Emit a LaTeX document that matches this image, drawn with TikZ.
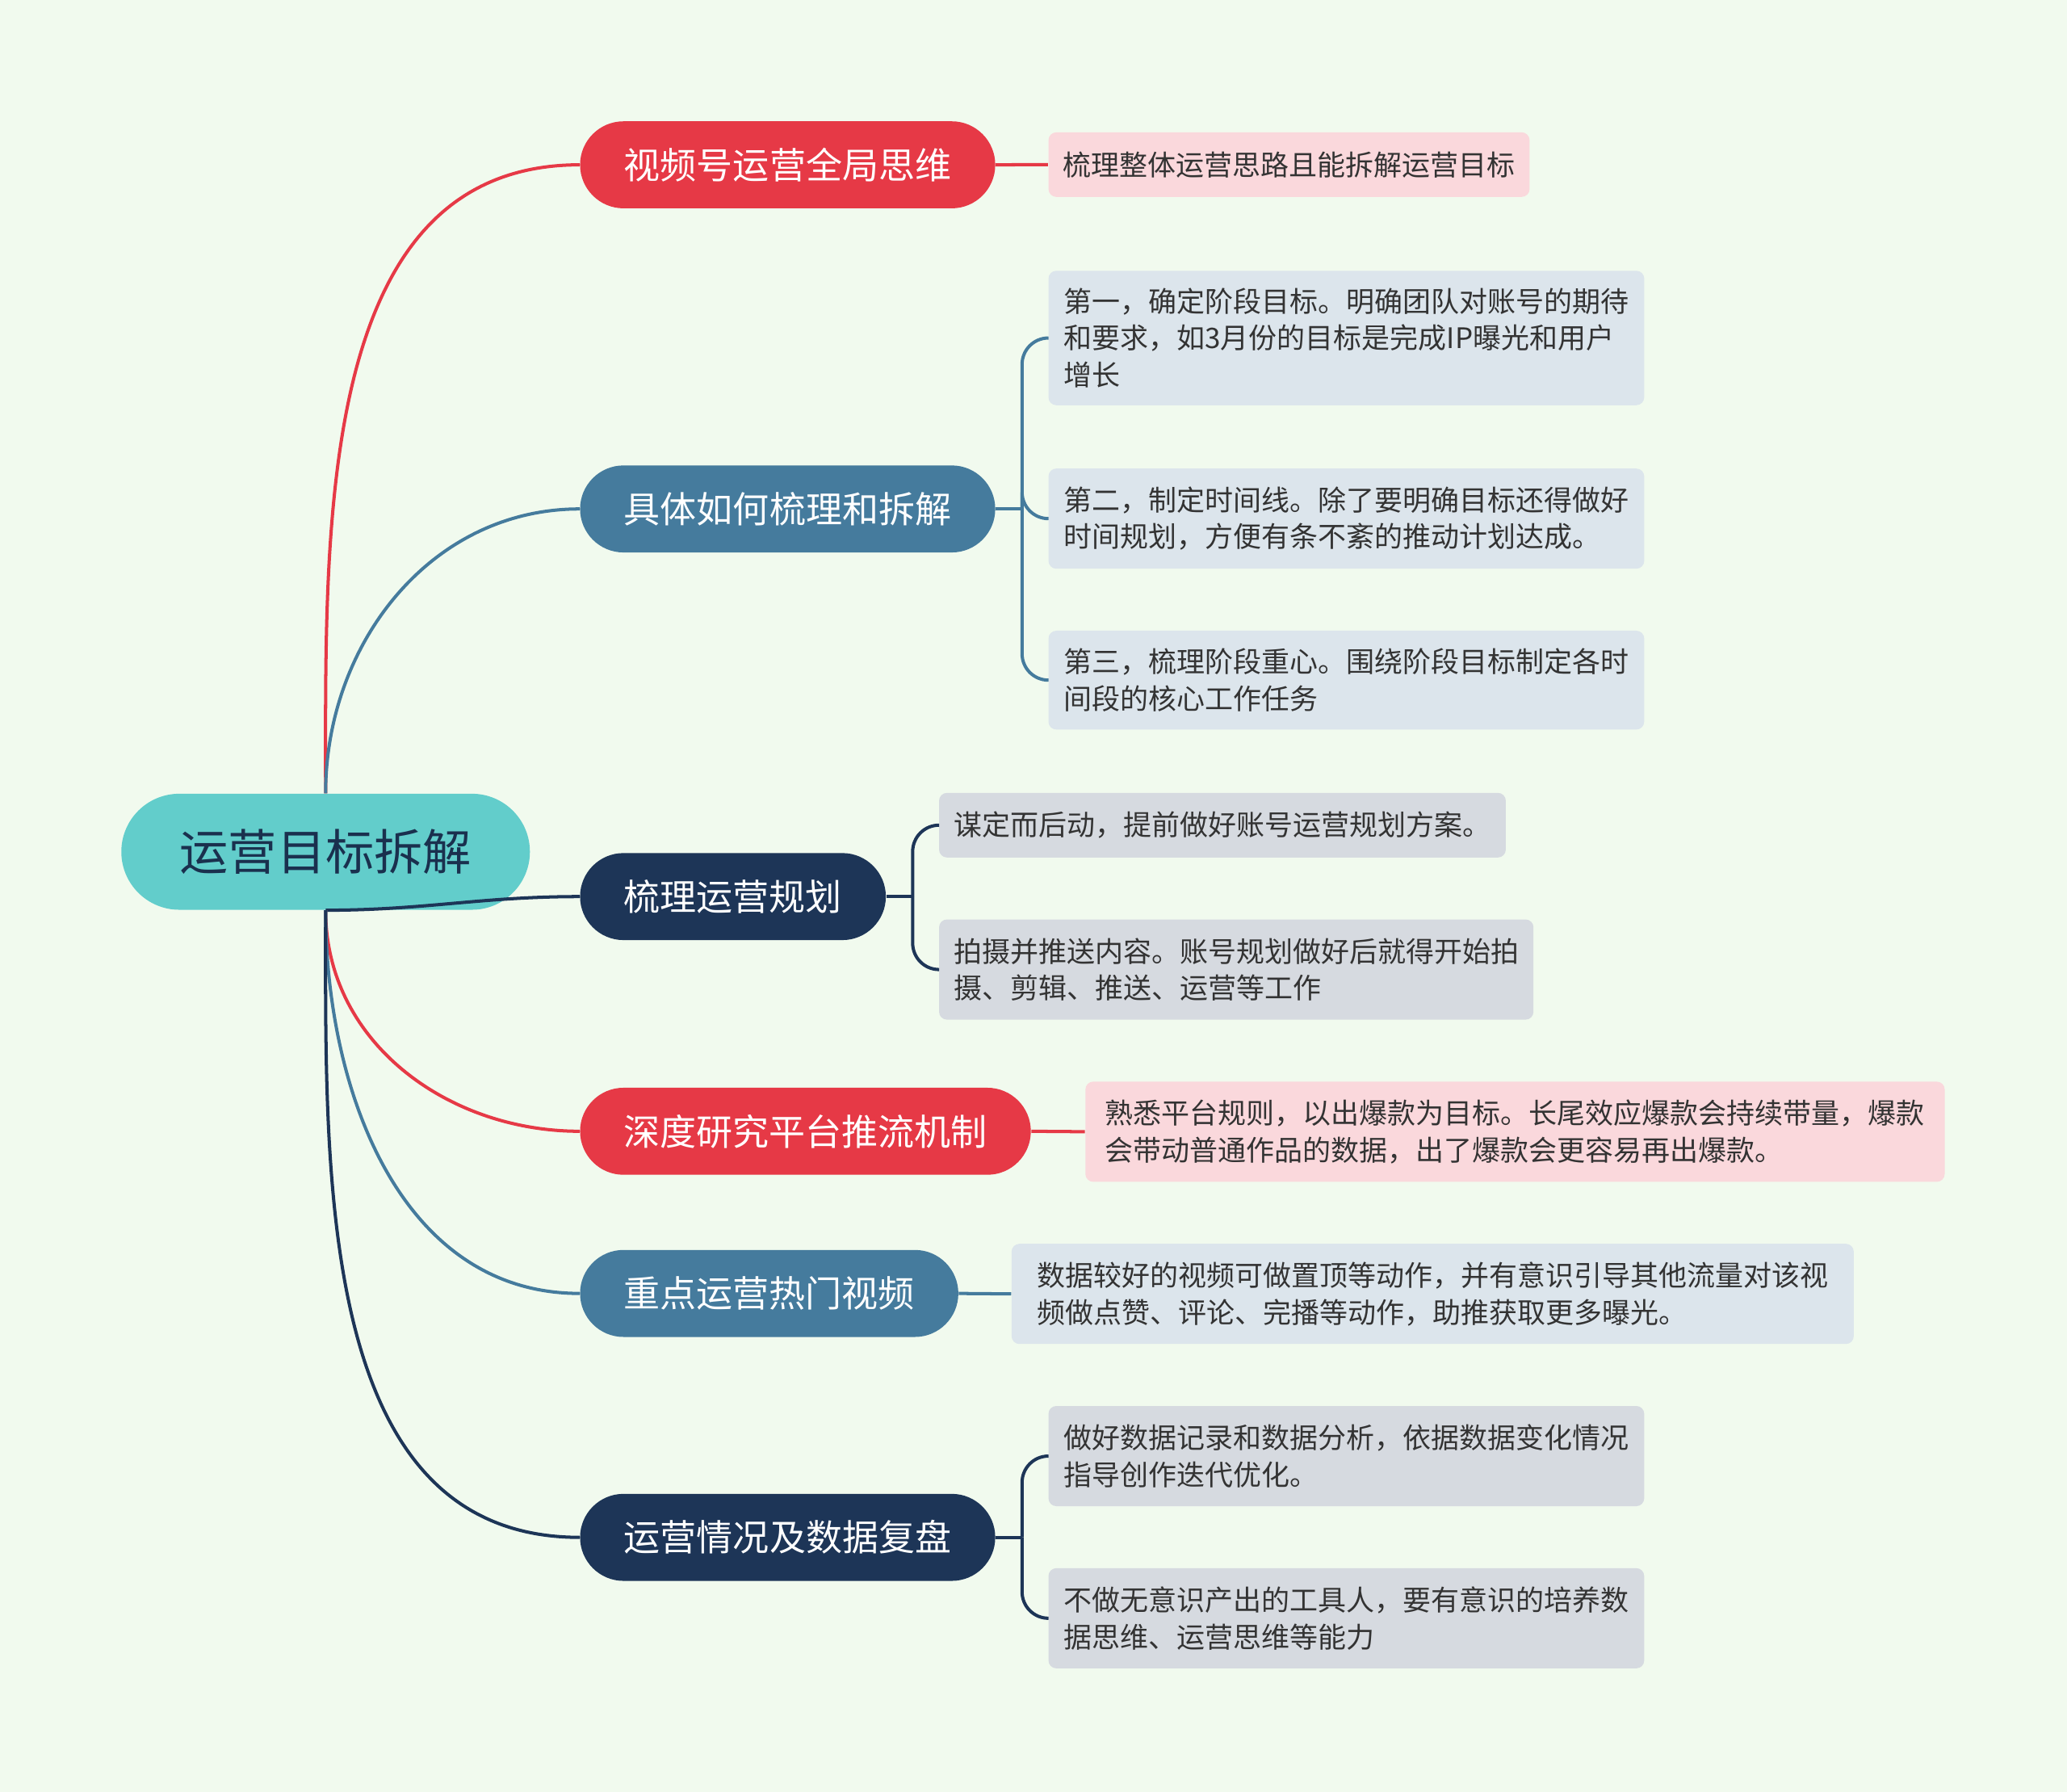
\documentclass[tikz,border=0pt]{standalone}
\usepackage{fontspec}
\newfontfamily\cjk{Noto Sans CJK SC}
\usetikzlibrary{positioning,calc}
\definecolor{bgcol}{HTML}{F1FAEE}
\definecolor{rootcol}{HTML}{62CDCB}
\definecolor{redcol}{HTML}{E63946}
\definecolor{bluecol}{HTML}{457B9D}
\definecolor{navycol}{HTML}{1D3557}
\definecolor{pinkleaf}{HTML}{FAD8DC}
\definecolor{blueleaf}{HTML}{DCE5EC}
\definecolor{grayleaf}{HTML}{D6DAE0}

\begin{document}
\begin{tikzpicture}[x=0.02cm, y=-0.02cm,
			root/.style={rectangle, rounded corners=0.88cm, fill=rootcol, text=navycol!90!black, minimum width=6.2cm, minimum height=1.76cm, font=\cjk\fontsize{21}{25}\selectfont},
			branch/.style={rectangle, rounded corners=0.66cm, fill=#1, text=white, minimum height=1.32cm, font=\cjk\fontsize{15.7}{19}\selectfont},
			leaf/.style={rectangle, rounded corners=0.12cm, fill=#1, text=black!80, align=left, inner xsep=0.22cm, anchor=north west, font=\cjk\fontsize{12.2}{15.9}\selectfont},
			link/.style={line width=1.4pt, draw=#1}]
			\fill[bgcol] (0,0) rectangle (1568,1359);
			\useasboundingbox (0,0) rectangle (1568,1359);
			% root and branches
			\node[root] (root) at (247,646) {运营目标拆解};
			\node[branch=redcol, minimum width=6.3cm] (global) at (597.5,125) {视频号运营全局思维};
			\node[branch=bluecol, minimum width=6.3cm] (howto) at (597.5,386) {具体如何梳理和拆解};
			\node[branch=navycol, minimum width=4.64cm] (plan) at (556,680) {梳理运营规划};
			\node[branch=redcol, minimum width=6.84cm] (push) at (611,858) {深度研究平台推流机制};
			\node[branch=bluecol, minimum width=5.74cm] (hot) at (583.5,981) {重点运营热门视频};
			\node[branch=navycol, minimum width=6.3cm] (review) at (597.5,1166) {运营情况及数据复盘};
			% leaves
			\node[leaf=pinkleaf, minimum width=7.3cm, minimum height=0.98cm] (globalA) at (795,100) {梳理整体运营思路且能拆解运营目标};
			\node[leaf=blueleaf, minimum width=9.04cm, minimum height=2.04cm] (howtoA) at (795,205) {第一，确定阶段目标。明确团队对账号的期待\\和要求，如3月份的目标是完成IP曝光和用户\\增长};
			\node[leaf=blueleaf, minimum width=9.04cm, minimum height=1.52cm] (howtoB) at (795,355) {第二，制定时间线。除了要明确目标还得做好\\时间规划，方便有条不紊的推动计划达成。};
			\node[leaf=blueleaf, minimum width=9.04cm, minimum height=1.5cm] (howtoC) at (795,478) {第三，梳理阶段重心。围绕阶段目标制定各时\\间段的核心工作任务};
			\node[leaf=grayleaf, minimum width=8.6cm, minimum height=0.98cm] (planA) at (712,601) {谋定而后动，提前做好账号运营规划方案。};
			\node[leaf=grayleaf, minimum width=9.02cm, minimum height=1.52cm] (planB) at (712,697) {拍摄并推送内容。账号规划做好后就得开始拍\\摄、剪辑、推送、运营等工作};
			\node[leaf=pinkleaf, minimum width=13.04cm, minimum height=1.52cm] (pushA) at (823,820) {熟悉平台规则，以出爆款为目标。长尾效应爆款会持续带量，爆款\\会带动普通作品的数据，出了爆款会更容易再出爆款。};
			\node[leaf=blueleaf, minimum width=12.78cm, minimum height=1.52cm] (hotA) at (767,943) {数据较好的视频可做置顶等动作，并有意识引导其他流量对该视\\频做点赞、评论、完播等动作，助推获取更多曝光。};
			\node[leaf=grayleaf, minimum width=9.04cm, minimum height=1.52cm] (reviewA) at (795,1066) {做好数据记录和数据分析，依据数据变化情况\\指导创作迭代优化。};
			\node[leaf=grayleaf, minimum width=9.04cm, minimum height=1.52cm] (reviewB) at (795,1189) {不做无意识产出的工具人，要有意识的培养数\\据思维、运营思维等能力};
			% root to branches
			\draw[link=redcol] (root.north) to[out=90, in=180] (global.west);
			\draw[link=bluecol] (root.north) to[out=90, in=180] (howto.west);
			\draw[link=navycol] (root.south) to[out=0, in=180] (plan.west);
			\draw[link=redcol] (root.south) to[out=-90, in=180] (push.west);
			\draw[link=bluecol] (root.south) to[out=-90, in=180] (hot.west);
			\draw[link=navycol] (root.south) to[out=-90, in=180] (review.west);
			% branches to leaves
			\draw[link=redcol] (global.east) -- (globalA.west);
			\draw[link=redcol] (push.east) -- (pushA.west);
			\draw[link=bluecol] (hot.east) -- (hotA.west);
			\draw[link=bluecol] (howto.east) -- ++(20,0) coordinate (howtoJ);
			\foreach \l in {howtoA,howtoB,howtoC}
				\draw[link=bluecol, rounded corners=0.4cm] (howtoJ) |- (\l.west);
			\draw[link=navycol] (plan.east) -- ++(20,0) coordinate (planJ);
			\foreach \l in {planA,planB}
				\draw[link=navycol, rounded corners=0.4cm] (planJ) |- (\l.west);
			\draw[link=navycol] (review.east) -- ++(20,0) coordinate (reviewJ);
			\foreach \l in {reviewA,reviewB}
				\draw[link=navycol, rounded corners=0.4cm] (reviewJ) |- (\l.west);
		\end{tikzpicture}
\end{document}
